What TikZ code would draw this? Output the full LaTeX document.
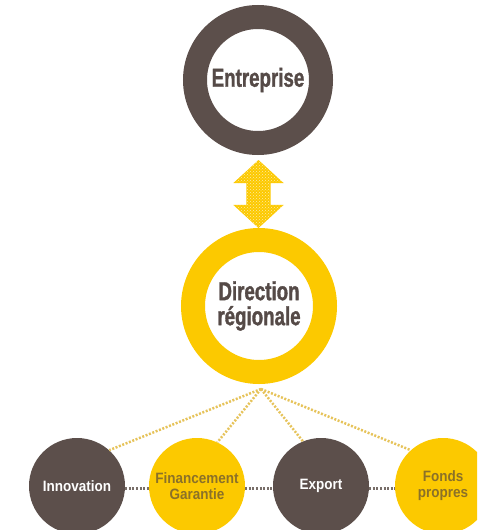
\documentclass[tikz,border=0pt]{standalone}
\usepackage{fontspec}
\setmainfont{Liberation Sans}
\newfontfamily\ringfont[FakeStretch=0.72,FakeBold=1.2]{Liberation Sans}
\newfontfamily\discfont[FakeStretch=0.9]{Liberation Sans}
\usepackage{tikz}
\usetikzlibrary{shapes,shapes.arrows,positioning,patterns,calc}
\definecolor{ORGbrown}{RGB}{92,79,75}
\definecolor{ORGyellow}{RGB}{252,201,0}
\definecolor{ORGtext}{RGB}{85,74,71}
\definecolor{ORGolive}{RGB}{139,113,40}
\definecolor{ORGdots}{RGB}{230,195,90}
\definecolor{ORGgray}{RGB}{120,110,105}
\tikzstyle{ring}=[circle,inner sep=0pt,line width=24pt,fill=white,text=ORGtext,align=center,font=\ringfont\bfseries\fontsize{26}{25}\selectfont]
\tikzstyle{disc}=[circle,inner sep=0pt,minimum size=96pt,align=center,font=\discfont\bfseries\fontsize{15}{16}\selectfont]
\tikzstyle{link}=[ORGdots,line width=2.5pt,dash pattern=on 2pt off 1.6pt]
\tikzstyle{chain}=[ORGgray,line width=2.5pt,dash pattern=on 2pt off 1.6pt]

\begin{document}
\begin{tikzpicture}[x=1pt,y=-1pt]

  \useasboundingbox (0,0) rectangle (477,530);
  \clip (0,0) rectangle (477,530);

  % top rings
  \node[ring,draw=ORGbrown,minimum size=126pt] (ent) at (258,80) {Entreprise};
  \node[ring,draw=ORGyellow,minimum size=132pt] (dir) at (259,306) {Direction\\régionale};

  % exchange arrow
  \node[double arrow,rotate=90,inner xsep=0pt,inner ysep=12pt,minimum height=68pt,
        double arrow head extend=13pt,double arrow tip angle=95,
        fill=ORGyellow,postaction={pattern=crosshatch dots,pattern color=ORGyellow!35}]
        (swap) at ($(ent.south)!0.5!(dir.north)+(0,2.5)$) {};

  % services
  \node[disc,fill=ORGbrown,text=white] (inno) at (77,486) {Innovation};
  \node[disc,fill=ORGyellow,text=ORGolive] (fin) at (197,486) {Financement\\Garantie};
  \node[disc,fill=ORGbrown,text=white] (exp) at (321,486) {Export};
  \node[disc,fill=ORGyellow,text=ORGolive] (fonds) at (443,486) {Fonds\\propres};

  % links to the regional office
  \coordinate (hub) at ($(dir.south)+(2,5)$);
  \draw[link] (hub) -- (inno.48);
  \draw[link] (hub) -- (fin.65);
  \draw[link] (hub) -- (exp.112);
  \draw[link] (hub) -- (fonds.132);

  % chain between services
  \draw[chain] (inno.-3) -- (fin.183);
  \draw[chain] (fin.-3) -- (exp.183);
  \draw[chain] (exp.-3) -- (fonds.183);

\end{tikzpicture}
\end{document}
